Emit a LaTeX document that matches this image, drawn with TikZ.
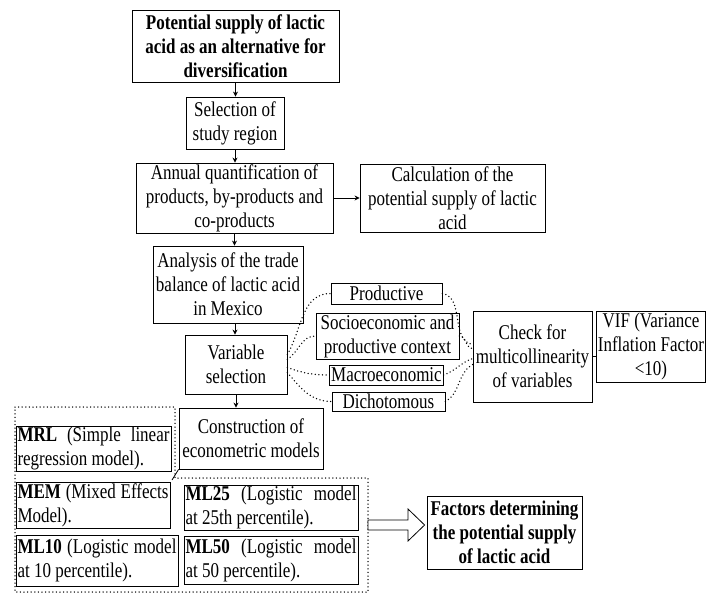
\documentclass[tikz,border=0pt]{standalone}
\usepackage{fontspec}
\setmainfont[FakeStretch=0.81]{Liberation Serif}
\usetikzlibrary{arrows.meta,calc}
\begin{document}
\begin{tikzpicture}[x=1pt,y=-1pt,
  box/.style={draw, line width=0.8pt, inner xsep=1.5pt, inner ysep=1pt, align=center,
    font=\fontsize{21}{24}\selectfont},
  jbox/.style={box, align=justify},
  arr/.style={line width=0.8pt, -{Stealth[length=5pt,width=5pt]}},
  dotline/.style={line width=1.5pt, dash pattern=on 0pt off 3.6pt, line cap=round},
  conn/.style={line width=0.8pt}]
\useasboundingbox (0,0) rectangle (707,594);

\node[box, minimum width=207pt, minimum height=72pt] (top) at (235.5,46)
  {\textbf{Potential supply of lactic}\\\textbf{acid as an alternative for}\\\textbf{diversification}};
\node[box, minimum width=98pt, minimum height=52pt] (sel) at (235,123) {Selection of\\study region};
\node[box, minimum width=197pt, minimum height=70pt] (annual) at (234.5,198)
  {Annual quantification of\\products, by-products and\\co-products};
\node[box, minimum width=185pt, minimum height=68pt] (calc) at (452.5,198)
  {Calculation of the\\potential supply of lactic\\acid};
\node[box, minimum width=150pt, minimum height=77pt] (analysis) at (228,284.5)
  {Analysis of the trade\\balance of lactic acid\\in Mexico};
\node[box, minimum width=102pt, minimum height=59pt] (var) at (236,364.5) {Variable\\selection};
\node[box, minimum width=144pt, minimum height=61pt] (constr) at (251,438.5)
  {Construction of\\econometric models};

\node[box, minimum width=111pt, minimum height=21pt] (prod) at (386.5,293.5) {Productive};
\node[box, minimum width=143pt, minimum height=46pt] (socio) at (387.5,336) {Socioeconomic and\\productive context};
\node[box, minimum width=111pt, minimum height=20pt] (macro) at (386.5,375) {Macroeconomic};
\node[box, minimum width=113pt, minimum height=19pt] (dich) at (388.5,401.5) {Dichotomous};

\node[box, minimum width=119pt, minimum height=91pt] (check) at (532.5,356.5)
  {Check for\\multicollinearity\\of variables};
\node[box, minimum width=108pt, minimum height=71pt] (vif) at (651,346.5)
  {VIF (Variance\\Inflation Factor\\<10)};

\node[jbox, text width=152pt, minimum height=43pt] (mrl) at (93.5,448.5)
  {\textbf{MRL} (Simple linear\linebreak regression model).};
\node[jbox, text width=151pt, minimum height=46pt] (mem) at (93,505)
  {\textbf{MEM} (Mixed Effects\linebreak Model).};
\node[jbox, text width=159pt, minimum height=51pt] (ml10) at (97,560.5)
  {\textbf{ML10} (Logistic model\linebreak at 10 percentile).};
\node[jbox, text width=171pt, minimum height=41pt] (ml25) at (271,507.5)
  {\textbf{ML25} (Logistic model\linebreak at 25th percentile).};
\node[jbox, text width=171pt, minimum height=48pt] (ml50) at (271,560)
  {\textbf{ML50} (Logistic model\linebreak at 50 percentile).};

\node[box, minimum width=155pt, minimum height=73pt] (factors) at (504.5,532.5)
  {\textbf{Factors determining}\\\textbf{the potential supply}\\\textbf{of lactic acid}};

% arrows
\draw[arr] (top.south) -- (top.south |- sel.north);
\draw[arr] (sel.south) -- (sel.south |- annual.north);
\draw[arr] (annual.south) -- (annual.south |- analysis.north);
\draw[arr] (annual.east) -- (calc.west);
\draw[arr] ([xshift=7pt]analysis.south) -- ([xshift=7pt]analysis.south |- var.north);
\draw[arr] (var.south) -- (var.south |- constr.north);
\draw[conn] (check.east) -- (check.east -| vif.west);

% dotted curves
\draw[dotline] ([yshift=10pt]var.east) to[out=60,in=180] (prod.west);
\draw[dotline] ([yshift=5pt]var.east) to[out=35,in=180] (socio.west);
\draw[dotline] ([yshift=-3pt]var.east) to[out=-20,in=180] (macro.west);
\draw[dotline] ([yshift=-8pt]var.east) to[out=-50,in=180] (dich.west);
\draw[dotline] (prod.east) to[out=-10,in=170] ([yshift=12pt]check.west);
\draw[dotline] (socio.east) to[out=0,in=180] ([yshift=8pt]check.west);
\draw[dotline] (macro.east) to[out=20,in=200] ([yshift=-2pt]check.west);
\draw[dotline] (dich.east) to[out=30,in=210] ([yshift=-8pt]check.west);

% dotted container
\coordinate (dc) at (175,478);
\draw[dotline] (15,407) -- (175,407) -- (dc) -- (368,478) -- (368,592) -- (15,592) -- cycle;
\draw[conn] ([xshift=-3pt,yshift=-2pt]dc) -- (constr.south west);

% hollow arrow
\draw[line width=0.8pt, fill=white] (368,520) -- (408,520) -- (408,509) -- ([xshift=-2pt]factors.west |- 0,525)
  -- (408,541) -- (408,530) -- (368,530) -- cycle;
\end{tikzpicture}
\end{document}
